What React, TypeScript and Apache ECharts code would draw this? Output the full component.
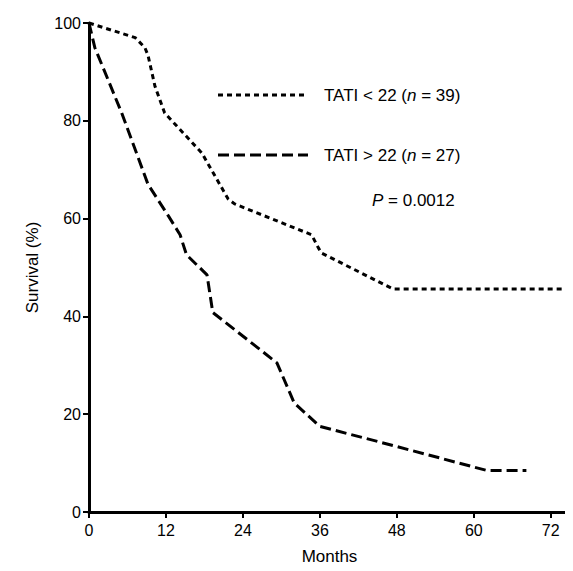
import React, { useEffect, useRef } from "react";
import * as echarts from "echarts";

const lowTati: number[][] = [
  [0, 100], [7.2, 97], [8.7, 95], [9.2, 93.4], [10.3, 87], [11.8, 81.6],
  [17.6, 73.4], [21.7, 64], [22.7, 63], [34.7, 56.7], [35.7, 54.2],
  [36.2, 53], [47.4, 45.6], [75, 45.6],
];
const highTati: number[][] = [
  [0, 100], [0.9, 95], [5.1, 81.6], [9.2, 67], [12.4, 60.5], [14.2, 56.7],
  [15.2, 52.6], [18.4, 48.5], [19.3, 40.8], [29.3, 30.5], [32, 22.3],
  [36, 17.5], [47.4, 13.6], [62, 8.5], [68.2, 8.5],
];

const font = "Liberation Sans, Arial, sans-serif";

const App: React.FC = () => {
  const ref = useRef<HTMLDivElement | null>(null);

  useEffect(() => {
    if (!ref.current) return;
    const chart = echarts.init(ref.current, undefined, { renderer: "svg" });
    const axisCommon = {
      axisLine: { show: true, lineStyle: { color: "#000", width: 3 } },
      axisTick: { show: true, length: 6, lineStyle: { color: "#000", width: 2 } },
      axisLabel: { color: "#000", fontSize: 16, fontFamily: font },
      splitLine: { show: false },
      nameTextStyle: { color: "#000", fontSize: 17, fontFamily: font },
    };
    const rich = {
      i: { fontStyle: "italic" as const, fontSize: 17, fontFamily: font, fill: "#000" },
    };
    const txt = { rich, fontSize: 17, fontFamily: font, fill: "#000", verticalAlign: "middle" as const };
    chart.setOption({
      animation: false,
      grid: { left: 81, right: 3, top: 15, bottom: 59 },
      xAxis: {
        type: "value", min: 0, max: 75, interval: 12,
        name: "Months", nameLocation: "middle", nameGap: 36,
        ...axisCommon,
        axisLabel: { ...axisCommon.axisLabel, showMaxLabel: false, margin: 10 },
      },
      yAxis: {
        type: "value", min: 0, max: 100, interval: 20,
        name: "Survival (%)", nameLocation: "middle", nameGap: 48,
        ...axisCommon,
      },
      graphic: [
        { type: "line", shape: { x1: 210, y1: 87, x2: 300, y2: 87 },
          style: { stroke: "#000", lineWidth: 3, lineDash: [5, 4] } },
        { type: "line", shape: { x1: 210, y1: 147, x2: 300, y2: 147 },
          style: { stroke: "#000", lineWidth: 3, lineDash: [11, 5] } },
        { type: "text", x: 316, y: 87, style: { ...txt, text: "TATI < 22 ({i|n} = 39)" } },
        { type: "text", x: 316, y: 147, style: { ...txt, text: "TATI > 22 ({i|n} = 27)" } },
        { type: "text", x: 364, y: 192, style: { ...txt, text: "{i|P} = 0.0012" } },
      ],
      series: [
        { type: "line", data: lowTati, symbol: "none",
          lineStyle: { color: "#000", width: 3, type: [5, 4] } },
        { type: "line", data: highTati, symbol: "none",
          lineStyle: { color: "#000", width: 3, type: [11, 5] } },
      ],
    });
    return () => chart.dispose();
  }, []);

  return <div ref={ref} style={{ width: 565, height: 563 }} />;
};

export default App;
